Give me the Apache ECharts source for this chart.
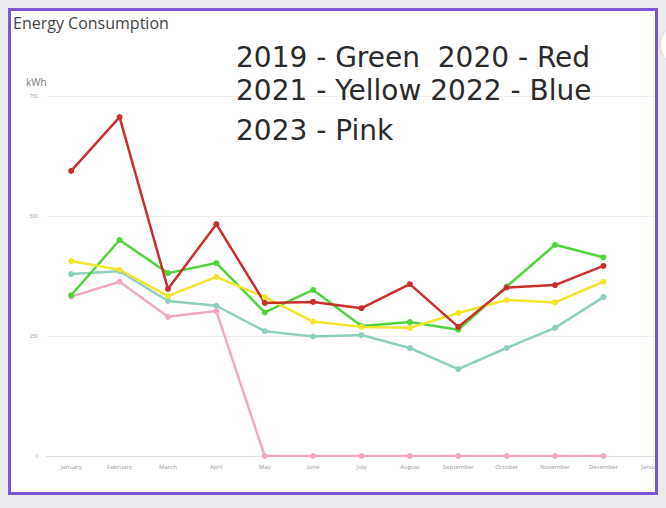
<!DOCTYPE html>
<html>
<head>
<meta charset="utf-8">
<title>Energy Consumption</title>
<script src="https://cdn.jsdelivr.net/npm/echarts@6/dist/echarts.min.js"></script>
<style>
  html, body { margin: 0; padding: 0; background: #e9ebef; width: 666px; height: 508px; overflow: hidden; }
  #card {
    position: absolute; left: 8px; top: 8px;
    width: 644px; height: 481px;
    border: 3px solid #7b55d6;
    background: #fff; overflow: hidden;
  }
  #container { position: absolute; left: 0; top: 0; width: 720px; height: 481px; }
  #knob {
    position: absolute; left: 660px; top: 22px; width: 44px; height: 44px;
    border-radius: 50%; background: #fff; border: 1px solid #d8dade;
  }
</style>
</head>
<body>
<div id="card"><div id="container"></div></div>
<div id="knob"></div>
<script>
  var months = ['January', 'February', 'March', 'April', 'May', 'June', 'July',
    'August', 'September', 'October', 'November', 'December', 'January'];
  var yTicks = [0, 250, 500, 750];

  var y2019 = [335, 450, 381, 402, 299, 346, 271, 279, 263, 353, 440, 414];
  var y2020 = [594, 706, 348, 483, 319, 321, 308, 358, 269, 351, 356, 396];
  var y2021 = [406, 388, 333, 373, 331, 280, 269, 267, 298, 325, 320, 363];
  var y2022 = [379, 385, 323, 313, 260, 249, 252, 225, 181, 225, 267, 331];
  var y2023 = [332, 363, 290, 302, 0, 0, 0, 0, 0, 0, 0, 0];

  var legendLines = ['2019 - Green  2020 - Red', '2021 - Yellow 2022 - Blue', '2023 - Pink'];

  var myChart = echarts.init(document.getElementById('container'), null, { renderer: 'svg' });

  function line(name, data, color) {
    return {
      name: name,
      type: 'line',
      data: data,
      symbol: 'circle',
      symbolSize: 6,
      showSymbol: true,
      animation: false,
      lineStyle: { color: color, width: 2.5 },
      itemStyle: { color: color }
    };
  }

  var legendStyle = { fontFamily: 'DejaVu Sans', fontSize: 28, fontWeight: 'normal', color: '#2a2a2a' };

  var option = {
    backgroundColor: '#fff',
    title: [
      { text: 'Energy Consumption', left: 2, top: 4, padding: 0,
        textStyle: { fontFamily: 'Open Sans', fontSize: 16, fontWeight: 'normal', color: '#444' } },
      { text: 'kWh', left: 15, top: 66, padding: 0,
        textStyle: { fontFamily: 'Open Sans', fontSize: 10, fontWeight: 'normal', color: '#777' } },
      { text: legendLines[0], left: 225, top: 32, padding: 0, textStyle: legendStyle },
      { text: legendLines[1], left: 225, top: 65, padding: 0, textStyle: legendStyle },
      { text: legendLines[2], left: 225, top: 105, padding: 0, textStyle: legendStyle }
    ],
    grid: { left: 36, top: 85, width: 629, height: 360, containLabel: false },
    xAxis: {
      type: 'category',
      data: months,
      boundaryGap: true,
      axisLine: { show: true, lineStyle: { color: '#ddd', type: 'dashed' } },
      axisTick: { show: false },
      axisLabel: { fontSize: 6, color: '#999', margin: 8, interval: 0, fontFamily: 'Open Sans' },
      splitLine: { show: false }
    },
    yAxis: {
      type: 'value',
      min: yTicks[0],
      max: yTicks[yTicks.length - 1],
      interval: 250,
      axisLine: { show: false },
      axisTick: { show: false },
      axisLabel: { fontSize: 5, color: '#aaa', margin: 9 },
      splitLine: { lineStyle: { color: '#eeeeee' } }
    },
    series: [
      line('2023', y2023, '#f3a7c4'),
      line('2022', y2022, '#8fcfbf'),
      line('2019', y2019, '#4fd43c'),
      line('2021', y2021, '#f2e52a'),
      line('2020', y2020, '#c9302c')
    ]
  };

  myChart.setOption(option);
  window.addEventListener('resize', myChart.resize);
</script>
</body>
</html>
